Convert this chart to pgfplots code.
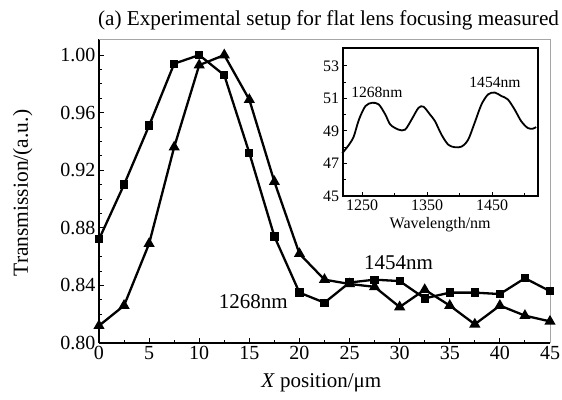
\documentclass[border=0pt]{standalone}
\usepackage{fontspec}
\setmainfont{Liberation Serif}
\usepackage{pgfplots}
\pgfplotsset{compat=1.18}
\newcommand{\fs}[1]{\fontsize{#1}{#1}\selectfont}
\begin{document}
\begin{tikzpicture}
\useasboundingbox (-99pt,-56pt) rectangle (463pt,343pt);
\begin{axis}[
  name=main,
  at={(0,0)}, anchor=south west,
  width=451pt, height=303.5pt, scale only axis,
  xmin=0, xmax=45, ymin=0.80, ymax=1.0108,
  xtick={0,5,...,45}, minor x tick num=1,
  ytick={0.80,0.84,0.88,0.92,0.96,1.00}, minor y tick num=3,
  yticklabel style={/pgf/number format/.cd, fixed, fixed zerofill, precision=2},
  /pgf/number format/assume math mode=true,
  tick label style={font=\fs{20}},
  axis x line*=bottom, axis y line*=left,
  axis line style={line width=1.3pt},
  tick style={line width=1pt, black},
  tick align=inside,
  major tick length=5pt, minor tick length=3pt,
  title={\fs{21.2}(a) Experimental setup for flat lens focusing measured},
  title style={at={(axis description cs:0.5,1)}, anchor=south, xshift=4pt, yshift=0pt},
  xlabel={\fs{21}\textit{X} position/μm},
  xlabel style={at={(axis description cs:0.493,-0.132)}, anchor=center},
  ylabel={\fs{21.5}Transmission/(a.u.)},
  ylabel style={at={(axis description cs:-0.169,0.494)}, anchor=center},
  clip=false,
]
\draw[gray!70, line width=1pt] (axis description cs:0,1) -- (axis description cs:1,1) -- (axis description cs:1,0);
\addplot[black, line width=2.3pt, mark=square*, mark size=3pt] coordinates {
(0,0.872) (2.5,0.910) (5,0.951) (7.5,0.994) (10,1.000) (12.5,0.986) (15,0.932)
(17.5,0.874) (20,0.835) (22.5,0.828) (25,0.842) (27.5,0.844) (30,0.843)
(32.5,0.831) (35,0.835) (37.5,0.835) (40,0.834) (42.5,0.845) (45,0.836)};
\addplot[black, line width=2.3pt, mark=triangle*, mark size=4.2pt] coordinates {
(0,0.812) (2.5,0.826) (5,0.869) (7.5,0.936) (10,0.993) (12.5,1.000) (15,0.969)
(17.5,0.912) (20,0.862) (22.5,0.844) (25,0.841) (27.5,0.839) (30,0.825)
(32.5,0.837) (35,0.826) (37.5,0.813) (40,0.826) (42.5,0.819) (45,0.815)};
\node at (axis cs:15.4,0.829) {\fs{21}1268nm};
\node at (axis cs:29.9,0.856) {\fs{21}1454nm};
\end{axis}
\begin{axis}[
  at={(243.7pt,147pt)}, anchor=south west,
  width=195pt, height=148pt, scale only axis,
  xmin=1220, xmax=1520, ymin=45, ymax=54.1,
  xtick={1250,1350,1450}, minor xtick={1300,1400,1500},
  ytick={45,47,49,51,53}, minor y tick num=1,
  xtick pos=left, ytick pos=left,
  /pgf/number format/assume math mode=true,
  xticklabel style={/pgf/number format/1000 sep={}},
  tick label style={font=\fs{16}},
  axis line style={line width=1.6pt},
  tick style={line width=1pt, black},
  tick align=inside,
  major tick length=4pt, minor tick length=3pt,
  xlabel={\fs{16}Wavelength/nm},
  clip=false,
]
\addplot[black, line width=1.8pt, smooth] coordinates {
(1219.4,47.63) (1229.6,48.15) (1237,48.66) (1245,49.7) (1255,50.53) (1265.3,50.73)
(1275.5,50.63) (1285.7,50.0) (1293.3,49.39) (1306,49.08) (1316,49.08) (1326,49.7)
(1336.6,50.42) (1344.3,50.49) (1354.5,50.0) (1362,49.6) (1372,48.77) (1382.5,48.15)
(1392.7,48.0) (1403,48.04) (1413,48.46) (1423,49.5) (1433.5,50.63) (1443.7,51.25)
(1454,51.36) (1464,51.15) (1474,50.94) (1484.5,50.32) (1494.6,49.6) (1504.8,49.18)
(1512.5,49.14) (1517.6,49.24)};
\node at (axis cs:1272.5,51.37) {\fs{15.6}1268nm};
\node at (axis cs:1454.3,52.0) {\fs{15.6}1454nm};
\end{axis}
\end{tikzpicture}
\end{document}
